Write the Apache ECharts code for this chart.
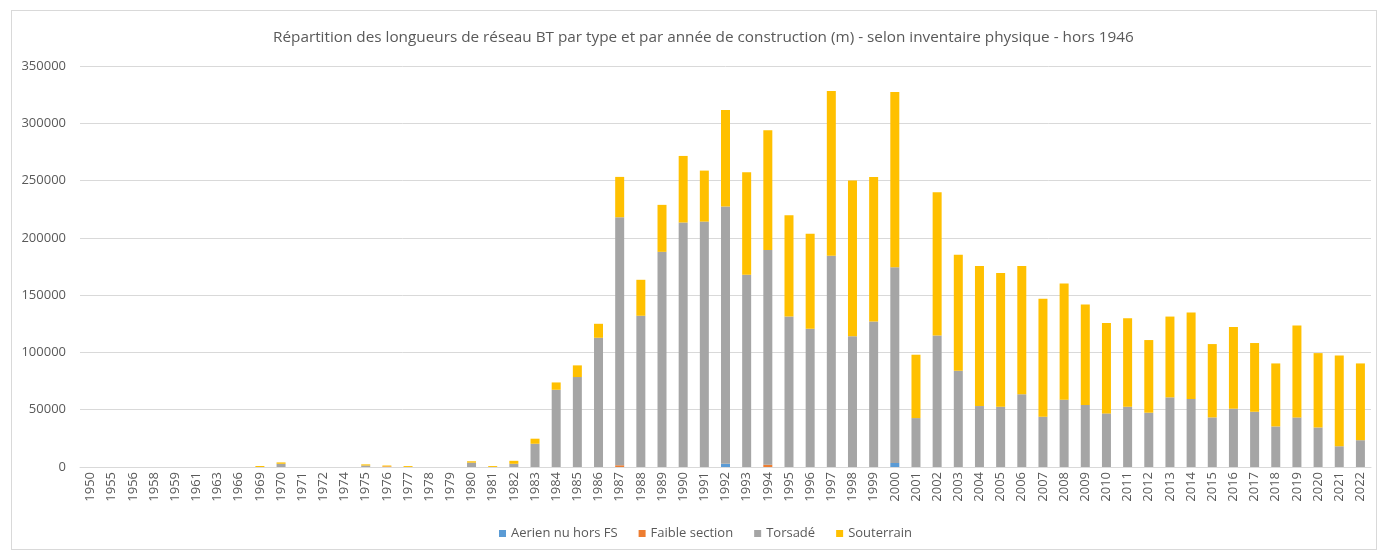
<!DOCTYPE html>
<html>
<head>
<meta charset="utf-8">
<script src="https://cdn.jsdelivr.net/npm/echarts@6/dist/echarts.min.js"></script>
<style>
  html, body { margin: 0; padding: 0; background: #fff; }
  #frame { position: absolute; left: 11px; top: 10px; width: 1366px; height: 540px; border: 1px solid #d9d9d9; box-sizing: border-box; }
  #main { position: absolute; left: 0; top: 0; width: 1379px; height: 552px; }
</style>
</head>
<body>
<div id="frame"></div>
<div id="main"></div>
<script>
// années de construction
const years = ['1950','1955','1956','1958','1959','1961','1963','1966','1969','1970','1971','1972','1974','1975','1976','1977','1978','1979','1980','1981','1982',
  '1983','1984','1985','1986','1987','1988','1989','1990','1991','1992','1993','1994','1995','1996','1997','1998','1999','2000',
  '2001','2002','2003','2004','2005','2006','2007','2008','2009','2010','2011','2012','2013','2014','2015','2016','2017','2018','2019','2020','2021','2022'];

const aerien = [0,0,0,0,0,0,0,0,0,0,0,0,0,0,0,0,0,0,0,0,0,
  0,0,0,0,0,0,0,0,0,2800,0,0,0,0,0,0,0,3500,
  0,0,0,0,0,0,0,0,0,0,0,0,0,0,0,0,0,0,0,0,0,0];

const faible = [0,0,0,0,0,0,0,0,0,0,0,0,0,0,500,0,0,0,0,0,0,
  0,0,0,0,1500,0,0,0,0,0,0,2000,0,0,0,0,0,0,
  0,0,0,0,0,0,0,0,0,0,0,0,0,0,0,0,0,0,0,0,0,0];

const torsade = [0,0,0,0,0,0,0,0,0,2800,0,0,0,1300,0,0,0,0,3800,0,2800,
  20300,67400,78500,112800,216500,132000,187800,213400,214200,224500,167700,187500,131400,120600,184300,114200,127000,170900,
  42700,114800,84000,53200,52600,63500,43900,58800,54100,46800,52600,47400,60800,59400,43300,50900,48200,35400,43300,34500,18100,23400];

const souterrain = [0,0,0,0,0,0,0,0,900,1200,0,0,0,1000,800,800,0,0,1200,800,2600,
  4400,6400,10200,12200,35200,31400,41000,58100,44500,84300,89600,104400,88400,82900,143900,135800,126200,152900,
  55300,125000,101200,122200,116700,111900,102900,101400,87700,78900,77200,63400,70500,75400,64000,71300,60000,55000,80100,64900,79300,67000];

const yTicks = [0, 50000, 100000, 150000, 200000, 250000, 300000, 350000];

const titleText = 'Répartition des longueurs de réseau BT par type et par année de construction (m) - selon inventaire physique - hors 1946';

const font = 'Open Sans';
const txt = '#595959';

let chart = echarts.init(document.getElementById('main'));

function mk(name, data, color) {
  return {
    name: name,
    type: 'bar',
    stack: 'total',
    data: data,
    barWidth: 9,
    itemStyle: { color: color },
    emphasis: { disabled: true }
  };
}

let option = {
  animation: false,
  textStyle: { fontFamily: font },
  title: {
    text: titleText,
    left: 268,
    top: 25,
    textStyle: { fontSize: 15.3, fontWeight: 'normal', color: txt, fontFamily: font }
  },
  legend: {
    bottom: 7,
    left: 494,
    itemWidth: 7,
    itemHeight: 7,
    itemGap: 21,
    icon: 'rect',
    textStyle: { fontSize: 13, color: txt, fontFamily: font }
  },
  grid: { left: 80, right: 8, top: 66, bottom: 85 },
  xAxis: {
    type: 'category',
    data: years,
    axisLine: { lineStyle: { color: '#d9d9d9' } },
    axisTick: { show: false },
    axisLabel: { rotate: 90, interval: 0, fontSize: 13, color: txt, margin: 5 }
  },
  yAxis: {
    type: 'value',
    min: yTicks[0],
    max: yTicks[yTicks.length - 1],
    interval: 50000,
    axisLine: { show: false },
    axisTick: { show: false },
    splitLine: { lineStyle: { color: '#d9d9d9' } },
    axisLabel: { fontSize: 13, color: txt, margin: 14, formatter: v => String(v) }
  },
  series: [
    mk('Aerien nu hors FS', aerien, '#5b9bd5'),
    mk('Faible section', faible, '#ed7d31'),
    mk('Torsadé', torsade, '#a5a5a5'),
    mk('Souterrain', souterrain, '#ffc000')
  ]
};

chart.setOption(option);
</script>
</body>
</html>
